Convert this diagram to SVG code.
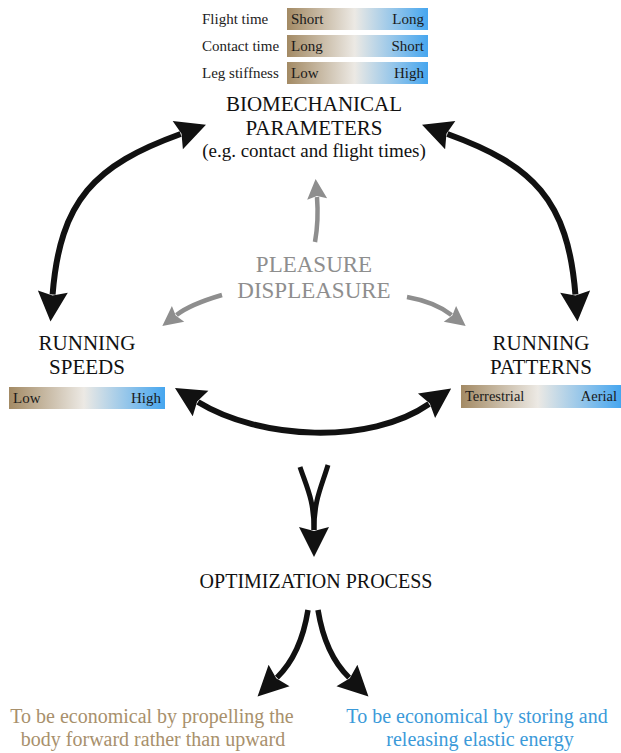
<svg xmlns="http://www.w3.org/2000/svg" width="621" height="753" viewBox="0 0 621 753">
<defs>
<style>
text{font-family:"Liberation Serif","Times New Roman",serif;}
.lbl{font-size:15px;fill:#222;}
.bt{font-size:15px;fill:#1a1a1a;}
.hd{font-size:21px;fill:#111;text-anchor:middle;}
.sub{font-size:19px;fill:#111;text-anchor:middle;}
.pl{font-size:23px;fill:#8e8e8e;text-anchor:middle;}
.tan{font-size:20px;fill:#a8906c;text-anchor:middle;}
.blu{font-size:20px;fill:#3b9ad9;text-anchor:middle;}
.ar{fill:none;stroke:#111;stroke-width:6;stroke-linecap:butt;}
.ga{fill:none;stroke:#8e8e8e;stroke-width:4.5;}
</style>
<linearGradient id="grad" x1="0" y1="0" x2="1" y2="0">
<stop offset="0" stop-color="#a38a64"/>
<stop offset="0.48" stop-color="#ece9e4"/>
<stop offset="1" stop-color="#46a6ef"/>
</linearGradient>
<marker id="bh" markerUnits="userSpaceOnUse" orient="auto-start-reverse" refX="0" refY="0" markerWidth="40" markerHeight="40" viewBox="-10 -20 40 40" overflow="visible">
<path d="M27,0 L-3,-15 L1,0 L-3,15 Z" fill="#111"/>
</marker>
<marker id="gh" markerUnits="userSpaceOnUse" orient="auto-start-reverse" refX="0" refY="0" markerWidth="30" markerHeight="30" viewBox="-10 -15 30 30" overflow="visible">
<path d="M18,0 L-2,-10 L1,0 L-2,10 Z" fill="#8e8e8e"/>
</marker>
</defs>
<rect width="621" height="753" fill="#fff"/>

<g id="connectors">
<path class="ar" d="M52.6,294.6 C60,200 95,165 180.6,134" marker-start="url(#bh)" marker-end="url(#bh)"/>
<path class="ar" d="M575.4,294.6 C568,200 533,165 447.4,134" marker-start="url(#bh)" marker-end="url(#bh)"/>
<path class="ar" d="M198,402 C260,440 370,445 429,404" marker-start="url(#bh)" marker-end="url(#bh)"/>
<path class="ar" style="stroke-width:5" d="M300,467 C307,488 314,500 314,530"/>
<path class="ar" style="stroke-width:5" d="M328,465 C321,488 314,500 314,530" marker-end="url(#bh)"/>
<path class="ar" style="stroke-width:5.5" d="M308,610 C304,635 295,660 276.9,677.6" marker-end="url(#bh)"/>
<path class="ar" style="stroke-width:5.5" d="M318,610 C322,635 331,660 349.1,677.6" marker-end="url(#bh)"/>
<path class="ga" d="M315,242 C318,225 318,210 317,197" marker-end="url(#gh)"/>
<path class="ga" d="M222,295 C205,300 188,306 176.5,315" marker-end="url(#gh)"/>
<path class="ga" d="M407,297 C424,300 440,306 451.5,315" marker-end="url(#gh)"/>
</g>

<g id="params-table">
<text class="lbl" x="202" y="24">Flight time</text>
<text class="lbl" x="202" y="51">Contact time</text>
<text class="lbl" x="202" y="78">Leg stiffness</text>
<rect x="287" y="8" width="141" height="22" fill="url(#grad)"/>
<rect x="287" y="35" width="141" height="22" fill="url(#grad)"/>
<rect x="287" y="62" width="141" height="22" fill="url(#grad)"/>
<text class="bt" x="291" y="24">Short</text>
<text class="bt" x="424" y="24" text-anchor="end">Long</text>
<text class="bt" x="291" y="51">Long</text>
<text class="bt" x="424" y="51" text-anchor="end">Short</text>
<text class="bt" x="291" y="78">Low</text>
<text class="bt" x="424" y="78" text-anchor="end">High</text>
</g>

<g id="biomechanical">
<text class="hd" x="314" y="111">BIOMECHANICAL</text>
<text class="hd" x="314" y="135">PARAMETERS</text>
<text class="sub" x="314" y="157">(e.g. contact and flight times)</text>
</g>

<g id="pleasure">
<text class="pl" x="314" y="272">PLEASURE</text>
<text class="pl" x="314" y="298">DISPLEASURE</text>
</g>

<g id="running-speeds">
<text class="hd" x="87" y="350">RUNNING</text>
<text class="hd" x="87" y="374">SPEEDS</text>
<rect x="9" y="387" width="156" height="22" fill="url(#grad)"/>
<text class="bt" x="13" y="403">Low</text>
<text class="bt" x="161" y="403" text-anchor="end">High</text>
</g>

<g id="running-patterns">
<text class="hd" x="541" y="350">RUNNING</text>
<text class="hd" x="541" y="374">PATTERNS</text>
<rect x="461" y="385" width="160" height="23" fill="url(#grad)"/>
<text class="bt" style="font-size:14.5px" x="465" y="401">Terrestrial</text>
<text class="bt" style="font-size:14.5px" x="617" y="401" text-anchor="end">Aerial</text>
</g>

<g id="optimization">
<text class="hd" style="font-size:20px" x="316" y="588">OPTIMIZATION PROCESS</text>
</g>

<g id="economical-forward">
<text class="tan" x="152" y="723">To be economical by propelling the</text>
<text class="tan" x="153" y="746">body forward rather than upward</text>
</g>

<g id="economical-elastic">
<text class="blu" x="477" y="723">To be economical by storing and</text>
<text class="blu" x="480" y="746">releasing elastic energy</text>
</g>
</svg>
